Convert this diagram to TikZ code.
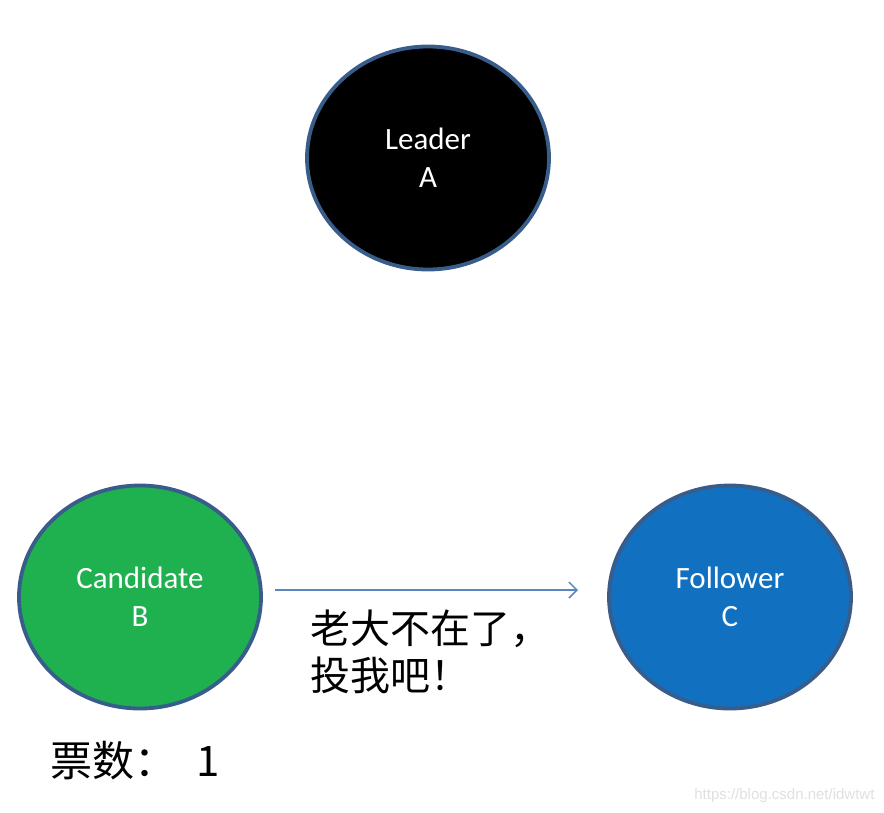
\documentclass[tikz,border=0pt]{standalone}
\usepackage{fontspec}
\setmainfont{Carlito}
\newfontfamily\cjk{Noto Sans CJK SC}
\newfontfamily\wmfont{Liberation Sans}
\usepackage{tikz}
\usetikzlibrary{arrows.meta,shapes.geometric}
\usepackage{xcolor}
\definecolor{rimblue}{HTML}{385D8A}
\definecolor{candgreen}{HTML}{1FB04F}
\definecolor{follblue}{HTML}{1270C0}
\definecolor{msgblue}{HTML}{5B86C0}

\begin{document}
\begin{tikzpicture}[x=1pt,y=-1pt]
	\useasboundingbox[fill=white] (0,0) rectangle (884,812);
	\begin{scope}[every node/.style={ellipse,draw=rimblue,line width=3.8pt,minimum width=242pt,minimum height=223pt,align=center,text=white,font=\fontsize{31}{38}\selectfont}]
		\node[fill=black] (A) at (428,158) {Leader\\A};
		\node[fill=candgreen] (B) at (140,597) {Candidate\\B};
		\node[fill=follblue] (C) at (730,597) {Follower\\C};
	\end{scope}
	\coordinate (tip) at (578,590);
	\draw[-{Straight Barb[length=8pt,width=16pt]},msgblue,line width=1.5pt] (B.east |- tip) ++(12,0) coordinate (tail) -- (tip);
	\node[anchor=north west,align=left,inner sep=0pt,font=\cjk\fontsize{40}{47}\selectfont] (msg) at (310,610) {老大不在了，\\投我吧！};
	\node[anchor=north west,inner sep=0pt,font=\cjk\fontsize{42}{48}\selectfont] (votes) at (50,741) {票数：\hspace{20pt}1};
	\node[anchor=south east,text=black!12,font=\wmfont\fontsize{15}{18}\selectfont] (mark) at (878,806) {https://blog.csdn.net/idwtwt};
\end{tikzpicture}
\end{document}
